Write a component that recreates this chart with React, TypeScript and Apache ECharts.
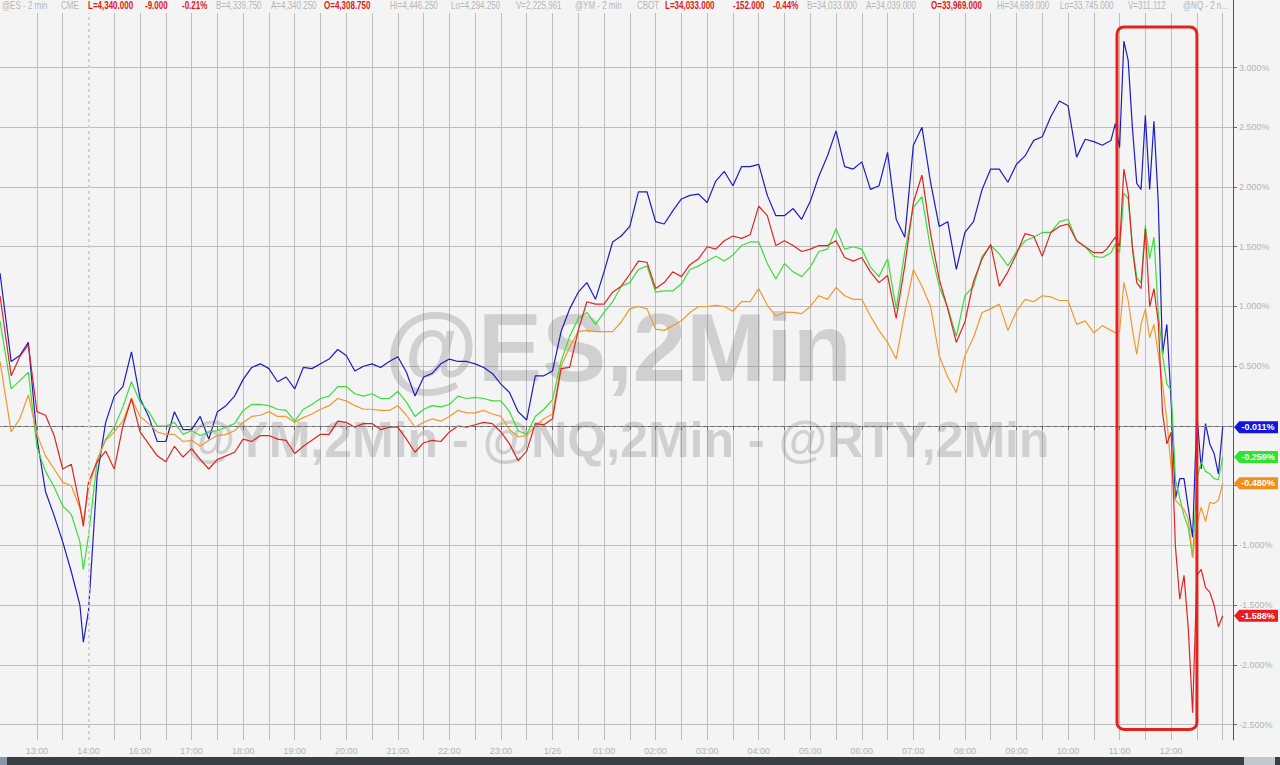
import React, { useEffect, useRef } from "react";
import * as echarts from "echarts";

// time axis: trading minutes after 12:00 (the 15:00-16:00 break is compressed out)
const times = [
  17, 30, 40, 50, 60, 70, 80, 90, 100, 110, 114,
  120, 130, 140, 150, 160, 170, 180, 190, 200, 210,
  220, 230, 240, 250, 260, 270, 280, 290, 300, 310,
  320, 330, 340, 350, 360, 370, 380, 390, 400, 410,
  420, 430, 440, 450, 460, 470, 480, 490, 500, 510,
  520, 530, 540, 550, 560, 570, 580, 590, 600, 610,
  620, 630, 640, 650, 660, 670, 680, 690, 700, 710,
  720, 730, 740, 750, 760, 770, 780, 790, 800, 810,
  820, 830, 840, 850, 860, 870, 880, 890, 900, 910,
  920, 930, 940, 950, 960, 970, 980, 990, 1000, 1010,
  1020, 1030, 1040, 1050, 1060, 1070, 1080, 1090, 1100, 1110,
  1120, 1130, 1140, 1150, 1160, 1170, 1180, 1190, 1200, 1210,
  1220, 1230, 1240, 1250, 1260, 1270, 1280, 1290,
  1300, 1305, 1310, 1315, 1320, 1325, 1330, 1335, 1340, 1345,
  1350, 1355, 1360, 1365, 1370, 1375, 1380, 1385, 1390, 1395,
  1400, 1405, 1410, 1415, 1420, 1425, 1430, 1435, 1440,
];

// @NQ (blue), % change
const nqPct = [
  1.28, 0.54, 0.59, 0.70, -0.10, -0.55, -0.75, -0.97, -1.22, -1.50, -1.81,
  -1.55, -0.42, 0.03, 0.25, 0.33, 0.62, 0.23, 0.08, -0.13, -0.13,
  0.12, -0.03, -0.03, 0.08, -0.11, 0.12, 0.17, 0.25, 0.39, 0.49,
  0.52, 0.48, 0.37, 0.41, 0.31, 0.49, 0.48, 0.52, 0.56, 0.64,
  0.59, 0.46, 0.50, 0.52, 0.49, 0.54, 0.58, 0.45, 0.25, 0.41,
  0.44, 0.52, 0.56, 0.54, 0.54, 0.52, 0.49, 0.44, 0.35, 0.28,
  0.12, 0.05, 0.42, 0.42, 0.46, 0.79, 0.98, 1.12, 1.20, 1.06,
  1.29, 1.54, 1.59, 1.67, 1.96, 1.96, 1.71, 1.69, 1.80, 1.90,
  1.93, 1.94, 1.87, 2.05, 2.13, 2.01, 2.17, 2.17, 2.19, 1.93,
  1.76, 1.76, 1.82, 1.73, 1.88, 2.09, 2.26, 2.47, 2.17, 2.15,
  2.21, 1.98, 2.01, 2.29, 1.73, 1.58, 2.35, 2.50, 2.04, 1.67,
  1.71, 1.31, 1.62, 1.71, 1.98, 2.15, 2.15, 2.04, 2.19, 2.26,
  2.39, 2.42, 2.59, 2.72, 2.68, 2.25, 2.40, 2.38,
  2.35, 2.37, 2.39, 2.53, 2.33, 3.22, 3.06, 2.49, 2.03, 1.98,
  2.60, 1.98, 2.55, 1.87, 0.60, 0.85, 0.20, -0.61, -0.44, -0.44,
  -0.69, -0.93, 0.10, -0.36, 0.02, -0.15, -0.23, -0.40, -0.011,
];

// @ES (green)
const esPct = [
  0.88, 0.31, 0.38, 0.45, -0.18, -0.38, -0.51, -0.67, -0.74, -0.97, -1.20,
  -0.92, -0.30, -0.11, -0.01, 0.16, 0.37, 0.20, 0.12, 0.00, 0.00,
  0.03, -0.07, -0.04, -0.08, -0.05, -0.04, -0.01, 0.02, 0.13, 0.18,
  0.18, 0.17, 0.14, 0.13, 0.04, 0.14, 0.18, 0.23, 0.25, 0.33,
  0.33, 0.27, 0.25, 0.27, 0.23, 0.23, 0.29, 0.20, 0.08, 0.14,
  0.17, 0.16, 0.18, 0.25, 0.23, 0.24, 0.23, 0.21, 0.21, 0.12,
  -0.04, -0.07, 0.08, 0.14, 0.22, 0.54, 0.75, 0.90, 0.95, 0.85,
  0.95, 1.04, 1.17, 1.20, 1.31, 1.34, 1.12, 1.13, 1.13, 1.19,
  1.31, 1.34, 1.38, 1.42, 1.38, 1.43, 1.51, 1.54, 1.54, 1.36,
  1.23, 1.36, 1.29, 1.25, 1.33, 1.46, 1.48, 1.65, 1.48, 1.50,
  1.48, 1.33, 1.25, 1.40, 0.98, 1.46, 1.83, 1.92, 1.48, 1.17,
  0.99, 0.75, 1.09, 1.17, 1.42, 1.51, 1.44, 1.34, 1.46, 1.55,
  1.58, 1.62, 1.62, 1.71, 1.73, 1.55, 1.50, 1.42,
  1.41, 1.43, 1.45, 1.52, 1.45, 1.95, 1.90, 1.50, 1.24, 1.20,
  1.68, 1.40, 1.58, 0.95, 0.60, 0.35, 0.30, -0.45, -0.60, -0.75,
  -0.85, -1.10, -0.45, -0.30, -0.38, -0.40, -0.44, -0.45, -0.259,
];

// @YM (orange)
const ymPct = [
  0.54, -0.05, 0.06, 0.26, -0.07, -0.25, -0.36, -0.47, -0.50, -0.69, -0.80,
  -0.53, -0.28, -0.12, -0.05, 0.04, 0.23, 0.08, 0.02, -0.05, -0.07,
  -0.07, -0.13, -0.12, -0.17, -0.12, -0.08, -0.07, -0.04, 0.03, 0.08,
  0.09, 0.12, 0.08, 0.08, 0.03, 0.07, 0.10, 0.14, 0.17, 0.23,
  0.21, 0.17, 0.14, 0.14, 0.13, 0.13, 0.17, 0.09, -0.01, 0.03,
  0.06, 0.04, 0.08, 0.13, 0.11, 0.11, 0.13, 0.10, 0.08, -0.03,
  -0.09, -0.08, 0.00, 0.06, 0.10, 0.50, 0.66, 0.79, 0.80, 0.79,
  0.79, 0.79, 0.87, 0.98, 1.00, 0.98, 0.81, 0.80, 0.84, 0.88,
  0.95, 1.00, 1.00, 1.01, 1.00, 0.96, 1.04, 1.04, 1.15, 1.01,
  0.92, 0.95, 0.95, 0.94, 1.00, 1.09, 1.06, 1.16, 1.09, 1.06,
  1.06, 0.92, 0.80, 0.70, 0.56, 0.95, 1.31, 1.17, 1.00, 0.59,
  0.41, 0.28, 0.59, 0.74, 0.95, 0.98, 1.02, 0.80, 0.96, 1.06,
  1.04, 1.09, 1.08, 1.05, 1.05, 0.85, 0.88, 0.78,
  0.84, 0.82, 0.80, 0.78, 0.79, 1.20, 1.05, 0.80, 0.60, 0.85,
  0.98, 0.74, 0.85, 0.60, 0.35, 0.05, -0.35, -0.62, -0.66, -0.70,
  -0.78, -1.10, -0.82, -0.68, -0.80, -0.64, -0.65, -0.62, -0.480,
];

// @RTY (red)
const rtyPct = [
  1.09, 0.42, 0.58, 0.68, 0.12, 0.09, -0.08, -0.36, -0.32, -0.67, -0.84,
  -0.47, -0.30, -0.21, -0.36, 0.00, 0.23, -0.05, -0.15, -0.25, -0.30,
  -0.17, -0.26, -0.19, -0.28, -0.36, -0.28, -0.25, -0.22, -0.11, -0.13,
  -0.08, -0.08, -0.11, -0.12, -0.23, -0.17, -0.12, -0.07, -0.07, 0.04,
  0.03, -0.01, 0.02, 0.02, -0.03, -0.01, -0.01, -0.11, -0.22, -0.14,
  -0.12, -0.13, -0.05, 0.00, -0.01, 0.01, 0.03, 0.02, -0.05, -0.15,
  -0.29, -0.21, 0.02, 0.01, 0.06, 0.48, 0.49, 0.80, 1.04, 1.02,
  1.02, 1.12, 1.17, 1.27, 1.38, 1.37, 1.15, 1.20, 1.29, 1.25,
  1.35, 1.40, 1.50, 1.48, 1.55, 1.59, 1.57, 1.60, 1.84, 1.76,
  1.51, 1.55, 1.51, 1.46, 1.48, 1.51, 1.51, 1.55, 1.41, 1.38,
  1.41, 1.29, 1.20, 1.26, 0.90, 1.34, 1.87, 2.10, 1.61, 1.23,
  0.98, 0.70, 0.87, 1.21, 1.40, 1.52, 1.17, 1.29, 1.44, 1.61,
  1.59, 1.42, 1.62, 1.67, 1.69, 1.55, 1.50, 1.45,
  1.45, 1.48, 1.53, 1.58, 1.50, 2.15, 1.95, 1.48, 1.20, 1.15,
  1.65, 1.00, 1.15, 0.87, 0.11, -0.15, -0.05, -1.01, -1.45, -1.25,
  -1.70, -2.40, -1.25, -1.20, -1.35, -1.39, -1.50, -1.68, -1.588,
];

const yTickValues = [-2.5, -2, -1.5, -1, -0.5, 0.5, 1, 1.5, 2, 2.5, 3];
const yLabelValues = [-2.5, -2, -1.5, -1, 0.5, 1, 1.5, 2, 2.5, 3];
const xGridTimes = [
  60, 90, 150, 180, 210, 240, 270, 300, 330, 360, 390, 420, 450, 480, 510, 540,
  570, 600, 630, 660, 690, 720, 750, 780, 810, 840, 870, 900, 930, 960, 990,
  1020, 1050, 1080, 1110, 1140, 1170, 1200, 1230, 1260, 1290, 1320, 1350, 1380,
  1410, 1440,
];
const xLabelTimes = [
  60, 120, 180, 240, 300, 360, 420, 480, 540, 600, 660, 720, 780, 840, 900, 960,
  1020, 1080, 1140, 1200, 1260, 1320, 1380,
];
const xLabels = [
  "13:00", "14:00", "16:00", "17:00", "18:00", "19:00", "20:00", "21:00",
  "22:00", "23:00", "1/26", "01:00", "02:00", "03:00", "04:00", "05:00",
  "06:00", "07:00", "08:00", "09:00", "10:00", "11:00", "12:00",
];

const headerItems: [string, number, boolean][] = [
  ["@ES - 2 min", 2, false],
  ["CME", 61, false],
  ["L=4,340.000", 88, true],
  ["-9.000", 145, true],
  ["-0.21%", 182, true],
  ["B=4,339.750", 216, false],
  ["A=4,340.250", 271, false],
  ["O=4,308.750", 324, true],
  ["Hi=4,446.250", 390, false],
  ["Lo=4,294.250", 451, false],
  ["V=2,225,961", 516, false],
  ["@YM - 2 min", 575, false],
  ["CBOT", 637, false],
  ["L=34,033.000", 665, true],
  ["-152.000", 733, true],
  ["-0.44%", 773, true],
  ["B=34,033.000", 807, false],
  ["A=34,039.000", 866, false],
  ["O=33,969.000", 931, true],
  ["Hi=34,699.000", 997, false],
  ["Lo=33,745.000", 1060, false],
  ["V=311,112", 1128, false],
  ["@NQ - 2 n...", 1183, false],
];

const X_MIN = 17;
const X_MAX = 1452;
const Y_MIN = -2.628;
const Y_MAX = 3.565;
const BOX = { t0: 1317, t1: 1410, v0: 3.34, v1: -2.54 };

const SANS = "'Liberation Sans', Arial, sans-serif";
const TAG_PATH = "path://M0,6L6,0L50,0L50,12L6,12Z";

export default function App() {
  const ref = useRef<HTMLDivElement>(null);

  useEffect(() => {
    const chart = echarts.init(ref.current!, undefined, { renderer: "svg" });

    const mk = (name: string, color: string, tagColor: string, values: number[], extra: any = {}) => {
      const last = values[values.length - 1];
      return {
        name,
        type: "line",
        showSymbol: false,
        symbol: "none",
        data: times.map((t, i) => [t, values[i]]),
        lineStyle: { color, width: 1.2 },
        itemStyle: { color },
        markPoint: {
          silent: true,
          symbol: TAG_PATH,
          symbolSize: [44, 12],
          symbolOffset: [23, 0],
          symbolKeepAspect: false,
          itemStyle: { color: tagColor },
          label: {
            show: true,
            position: "inside",
            offset: [2, 0],
            color: "#ffffff",
            fontSize: 9,
            fontWeight: "bold",
            fontFamily: SANS,
            formatter: () => `${last.toFixed(3)}%`,
          },
          data: [{ coord: [X_MAX, last], value: last }],
        },
        ...extra,
      };
    };

    chart.setOption({
      animation: false,
      backgroundColor: "#f4f4f4",
      grid: { left: 0, right: 47, top: 0, bottom: 25, containLabel: false },
      xAxis: {
        type: "value",
        min: X_MIN,
        max: X_MAX,
        axisLine: { show: true, lineStyle: { color: "#666666", width: 1 } },
        axisTick: { show: true, length: 4, customValues: xGridTimes, lineStyle: { color: "#666666" } },
        axisLabel: {
          customValues: xLabelTimes,
          margin: 6,
          color: "#b3b3b3",
          fontSize: 9,
          fontFamily: SANS,
          formatter: (v: number) => xLabels[xLabelTimes.indexOf(v)] ?? "",
        },
        splitLine: { show: true, lineStyle: { color: "#bdbdbd", width: 1 } },
      },
      yAxis: {
        type: "value",
        position: "right",
        min: Y_MIN,
        max: Y_MAX,
        axisLine: { show: true, lineStyle: { color: "#555555", width: 1 } },
        axisTick: { show: true, length: 4, customValues: yTickValues, lineStyle: { color: "#666666" } },
        axisLabel: {
          customValues: yLabelValues,
          margin: 6,
          color: "#b3b3b3",
          fontSize: 9,
          fontFamily: SANS,
          formatter: (v: number) => `${v.toFixed(3)}%`,
        },
        splitLine: { show: true, lineStyle: { color: "#bdbdbd", width: 1 } },
      },
      series: [
        mk("@NQ", "#1c1cc4", "#1414e0", nqPct, {
          markLine: {
            silent: true,
            symbol: "none",
            label: { show: false },
            data: [
              { yAxis: 0, lineStyle: { color: "#8c8c8c", type: [4, 3], width: 1 } },
              { xAxis: 120, lineStyle: { color: "#d2d2d2", type: [3, 3], width: 2 } },
            ],
          },
        }),
        mk("@ES", "#3ade3a", "#2fe42f", esPct),
        mk("@YM", "#f0992e", "#f0901c", ymPct),
        mk("@RTY", "#e02424", "#ea1c22", rtyPct),
      ],
    });

    const [bx0, by0] = chart.convertToPixel({ xAxisIndex: 0, yAxisIndex: 0 }, [BOX.t0, BOX.v0]) as number[];
    const [bx1, by1] = chart.convertToPixel({ xAxisIndex: 0, yAxisIndex: 0 }, [BOX.t1, BOX.v1]) as number[];

    const header = headerItems.map(([text, x, red], i) => ({
      type: "text",
      id: "h" + i,
      x,
      y: 1,
      z: 101,
      scaleX: 0.8,
      silent: true,
      style: {
        text,
        fill: red ? "#e01818" : "#b4b4b4",
        fontSize: 10,
        fontWeight: red ? "bold" : "normal",
        fontFamily: SANS,
        verticalAlign: "top",
        align: "left",
      },
    }));

    chart.setOption({
      graphic: [
        {
          type: "text",
          id: "wm1",
          x: 618,
          y: 347,
          z: 1,
          silent: true,
          style: {
            text: "@ES,2Min",
            fill: "rgba(110,110,110,0.27)",
            fontSize: 96,
            fontWeight: "bold",
            fontFamily: SANS,
            align: "center",
            verticalAlign: "middle",
          },
        },
        {
          type: "text",
          id: "wm2",
          x: 618,
          y: 440,
          z: 1,
          silent: true,
          style: {
            text: "@YM,2Min - @NQ,2Min - @RTY,2Min",
            fill: "rgba(110,110,110,0.27)",
            fontSize: 50,
            fontWeight: "bold",
            fontFamily: SANS,
            align: "center",
            verticalAlign: "middle",
          },
        },
        {
          type: "rect",
          id: "hdrbg",
          z: 100,
          silent: true,
          shape: { x: 0, y: 0, width: 1233, height: 13 },
          style: { fill: "#f4f4f4" },
        },
        ...header,
        {
          type: "rect",
          id: "box",
          z: 50,
          silent: true,
          shape: { x: bx0, y: by0, width: bx1 - bx0, height: by1 - by0, r: 7 },
          style: { fill: "none", stroke: "#e2231c", lineWidth: 3 },
        },
        {
          type: "rect",
          id: "bar",
          z: 100,
          silent: true,
          shape: { x: 0, y: 757, width: 1280, height: 8 },
          style: { fill: "#3a3f46" },
        },
        {
          type: "rect",
          id: "barL",
          z: 101,
          silent: true,
          shape: { x: 0, y: 757, width: 7, height: 8 },
          style: { fill: "#8a97a8" },
        },
        {
          type: "rect",
          id: "barR",
          z: 101,
          silent: true,
          shape: { x: 1244, y: 757, width: 31, height: 8 },
          style: { fill: "#c3c8cf" },
        },
      ],
    });

    return () => chart.dispose();
  }, []);

  return (
    <div
      ref={ref}
      style={{ position: "fixed", left: 0, top: 0, width: 1280, height: 765 }}
    />
  );
}
